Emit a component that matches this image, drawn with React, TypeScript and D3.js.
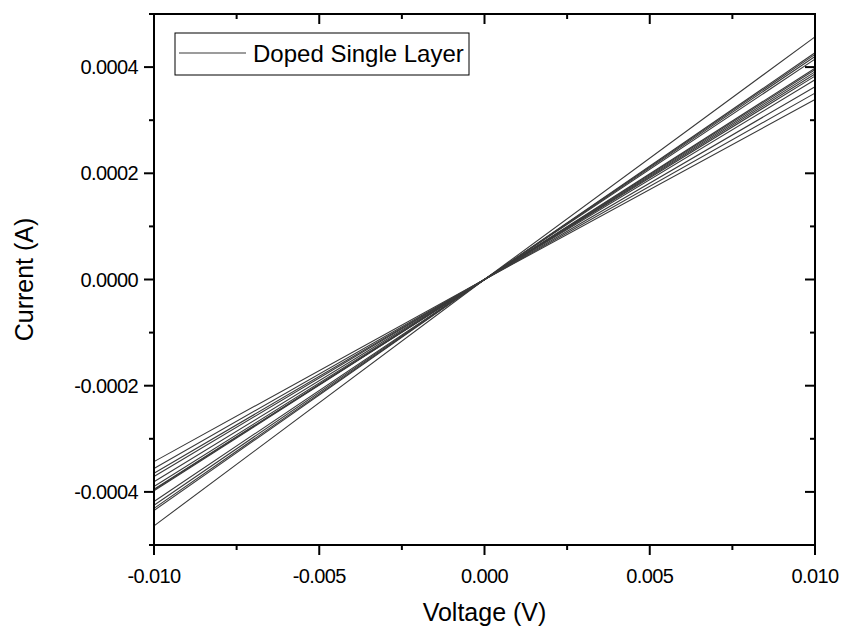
import React from "react";
import * as d3 from "d3";

const voltages = [-0.01, 0, 0.01];
// current at -0.010 V and +0.010 V for each sweep
const currentAtNeg = [-0.000464, -0.000435, -0.000431, -0.000425, -0.000418, -0.000398, -0.000396, -0.000395, -0.00039, -0.000381, -0.000371, -0.000365, -0.000356, -0.000343];
const currentAtPos = [0.000457, 0.000427, 0.000424, 0.00042, 0.000415, 0.000398, 0.000395, 0.000391, 0.000387, 0.000383, 0.000376, 0.000363, 0.000351, 0.000339];
const xTicks = [-0.01, -0.005, 0, 0.005, 0.01];
const xMinor = [-0.0075, -0.0025, 0.0025, 0.0075];
const yTicks = [-0.0004, -0.0002, 0, 0.0002, 0.0004];
const yMinor = [-0.0005, -0.0003, -0.0001, 0.0001, 0.0003, 0.0005];
const legendLabel = "Doped Single Layer";
const xTitle = "Voltage (V)";
const yTitle = "Current (A)";

export default function App() {
  const W = 847, H = 637;
  const L = 154, R = 815, T = 14, B = 545;
  const x = d3.scaleLinear().domain([-0.01, 0.01]).range([L, R]);
  const y = d3.scaleLinear().domain([-0.0005, 0.0005]).range([B, T]);
  const line = d3.line<[number, number]>().x(d => x(d[0])).y(d => y(d[1]));
  const series = currentAtNeg.map((n, i) => [
    [voltages[0], n],
    [voltages[1], 0],
    [voltages[2], currentAtPos[i]],
  ] as [number, number][]);
  const font = "'Liberation Sans', Arial, sans-serif";
  const fx = (v: number) => d3.format(".3f")(v).replace("−", "-");
  const fy = (v: number) => d3.format(".4f")(Math.abs(v) < 1e-12 ? 0 : v).replace("−", "-");
  return (
    <svg width={W} height={H} style={{ position: "absolute", left: 0, top: 0, background: "#fff" }}>
      <rect x={0} y={0} width={W} height={H} fill="#fff" />
      <g>
        {series.map((s, i) => (
          <path key={i} d={line(s) || ""} fill="none" stroke="#3a3a3a" strokeWidth={1.1} />
        ))}
      </g>
      {/* frame */}
      <rect x={L} y={T} width={R - L} height={B - T} fill="none" stroke="#000" strokeWidth={2} />
      {xTicks.map((t, i) => (
        <g key={"xt" + i}>
          <line x1={x(t)} x2={x(t)} y1={B} y2={B + 10} stroke="#000" strokeWidth={2} />
          <line x1={x(t)} x2={x(t)} y1={T} y2={T + 10} stroke="#000" strokeWidth={2} />
          <text x={x(t)} y={B + 38} textAnchor="middle" fontFamily={font} fontSize={20} letterSpacing={-0.6} fill="#000">{fx(t)}</text>
        </g>
      ))}
      {xMinor.map((t, i) => (
        <g key={"xm" + i}>
          <line x1={x(t)} x2={x(t)} y1={B} y2={B + 5} stroke="#000" strokeWidth={2} />
          <line x1={x(t)} x2={x(t)} y1={T} y2={T + 5} stroke="#000" strokeWidth={2} />
        </g>
      ))}
      {yTicks.map((t, i) => (
        <g key={"yt" + i}>
          <line x1={L - 10} x2={L} y1={y(t)} y2={y(t)} stroke="#000" strokeWidth={2} />
          <line x1={R - 10} x2={R} y1={y(t)} y2={y(t)} stroke="#000" strokeWidth={2} />
          <text x={L - 16} y={y(t) + 7} textAnchor="end" fontFamily={font} fontSize={20} letterSpacing={-0.6} fill="#000">{fy(t)}</text>
        </g>
      ))}
      {yMinor.map((t, i) => (
        <g key={"ym" + i}>
          <line x1={L - 5} x2={L} y1={y(t)} y2={y(t)} stroke="#000" strokeWidth={2} />
          <line x1={R - 5} x2={R} y1={y(t)} y2={y(t)} stroke="#000" strokeWidth={2} />
        </g>
      ))}
      <text x={(L + R) / 2} y={621} textAnchor="middle" fontFamily={font} fontSize={25} fill="#000">{xTitle}</text>
      <text transform={`translate(33, ${(T + B) / 2}) rotate(-90)`} textAnchor="middle" fontFamily={font} fontSize={25} fill="#000">{yTitle}</text>
      <rect x={175} y={33} width={294} height={42} fill="#fff" stroke="#000" strokeWidth={1} />
      <line x1={179} x2={246} y1={53} y2={53} stroke="#3a3a3a" strokeWidth={1.1} />
      <text x={253} y={62} fontFamily={font} fontSize={24} fill="#000">{legendLabel}</text>
    </svg>
  );
}
